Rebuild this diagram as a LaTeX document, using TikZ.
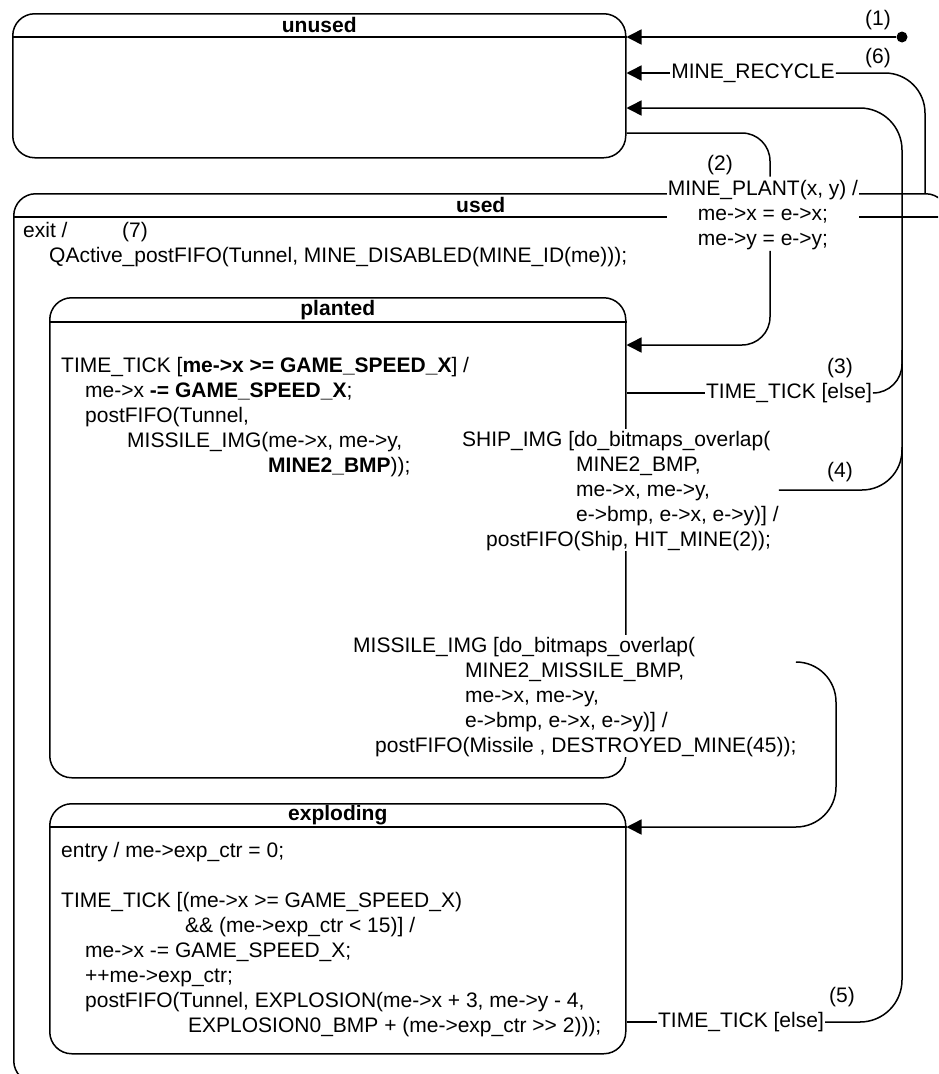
\documentclass[tikz,border=0pt]{standalone}
\usepackage{fontspec}
\setmainfont{Liberation Sans}
\usetikzlibrary{
	arrows.meta,
	positioning
}
\tikzset{
  % state
	cststate/.style   ={draw, line width=1.5pt, rounded corners=22pt, inner sep=0pt, anchor=north west},
	csthead/.style    ={line width=1.5pt},
	csttitle/.style   ={font=\fontsize{21}{25}\selectfont\bfseries, inner sep=0pt},
  % text
	csttext/.style    ={align=left, inner sep=0pt, anchor=north west},
	cstlabel/.style   ={fill=white, inner sep=1pt},
	cstnum/.style     ={inner sep=0pt},
  % arrow
	cstline/.style    ={line width=1.5pt},
	cstra/.style      ={line width=1.5pt, -{Triangle[length=15pt,width=15pt]}},
  % dot
	cstdot/.style     ={circle, fill, inner sep=0pt, minimum size=11pt}
}
\begin{document}
\begin{tikzpicture}[x=1pt, y=-1pt, font=\fontsize{21}{25}\selectfont]
	\useasboundingbox (0,0) rectangle (938,1074);
	\clip (0,0) rectangle (938,1074);
	% states
	\node[cststate, minimum width=613pt, minimum height=144pt] (unused) at (12,13) {};
	\node[cststate, minimum width=934pt, minimum height=889pt] (used) at (13,193) {};
	\node[cststate, minimum width=576pt, minimum height=480pt] (planted) at (49,297) {};
	\node[cststate, minimum width=576pt, minimum height=250pt] (exploding) at (49,803) {};
	\draw[csthead] (unused.west |- 0,37) -- (unused.east |- 0,37);
	\draw[csthead] (used.west |- 0,217) -- (used.east |- 0,217);
	\draw[csthead] (planted.west |- 0,322) -- (planted.east |- 0,322);
	\draw[csthead] (exploding.west |- 0,827) -- (exploding.east |- 0,827);
	\node[csttitle] (unusedtitle) at (unused.north |- 0,25) {unused};
	\node[csttitle] (usedtitle) at (used.north |- 0,205) {used};
	\node[csttitle] (plantedtitle) at (planted.north |- 0,310) {planted};
	\node[csttitle] (explodingtitle) at (exploding.north |- 0,815) {exploding};
	% actions
	\node[csttext] (usedtext) at (23,219.5) {\strut exit /\\
		\hspace*{26pt}QActive\_postFIFO(Tunnel, MINE\_DISABLED(MINE\_ID(me)));};
	\node[cstnum, anchor=base west] (num7) at (122,237) {(7)};
	\node[csttext] (plantedtext) at (61,354.5) {\strut TIME\_TICK [\textbf{me->x >= GAME\_SPEED\_X}] /\\
		\hspace*{24pt}me->x \textbf{-= GAME\_SPEED\_X};\\
		\hspace*{24pt}postFIFO(Tunnel,\\
		\hspace*{66pt}MISSILE\_IMG(me->x, me->y,\\
		\hspace*{207pt}\textbf{MINE2\_BMP}));};
	\node[csttext] (explodingtext) at (61,839.5) {\strut entry / me->exp\_ctr = 0;\\[25pt]
		TIME\_TICK [(me->x >= GAME\_SPEED\_X)\\
		\hspace*{124pt}\&\& (me->exp\_ctr < 15)] /\\
		\hspace*{24pt}me->x -= GAME\_SPEED\_X;\\
		\hspace*{24pt}++me->exp\_ctr;\\
		\hspace*{24pt}postFIFO(Tunnel, EXPLOSION(me->x + 3, me->y - 4,\\
		\hspace*{127pt}EXPLOSION0\_BMP + (me->exp\_ctr >\kern0pt> 2)));};
	% transition labels
	\node[cstlabel] (recycle) at (753,73) {MINE\_RECYCLE};
	\node[cstlabel, align=center, anchor=north] (plant) at (763,176.5) {\strut MINE\_PLANT(x, y) /\\
		me->x = e->x;\\
		me->y = e->y;};
	\node[cstlabel] (else3) at (789,393) {TIME\_TICK [else]};
	\node[cstlabel, csttext] (ship) at (462,428.5) {\strut SHIP\_IMG [do\_bitmaps\_overlap(\\
		\hspace*{114pt}MINE2\_BMP,\\
		\hspace*{114pt}me->x, me->y,\\
		\hspace*{114pt}e->bmp, e->x, e->y)] /\\
		\hspace*{24pt}postFIFO(Ship, HIT\_MINE(2));};
	\node[cstlabel, csttext] (missile) at (353,634.5) {\strut MISSILE\_IMG [do\_bitmaps\_overlap(\\
		\hspace*{112pt}MINE2\_MISSILE\_BMP,\\
		\hspace*{112pt}me->x, me->y,\\
		\hspace*{112pt}e->bmp, e->x, e->y)] /\\
		\hspace*{22pt}postFIFO(Missile , DESTROYED\_MINE(45));};
	\node[cstlabel] (else5) at (741,1022) {TIME\_TICK [else]};
	\node[cstnum] (num1) at (878,20) {(1)};
	\node[cstnum] (num6) at (878,58) {(6)};
	\node[cstnum] (num2) at (720,165) {(2)};
	\node[cstnum] (num3) at (840,368) {(3)};
	\node[cstnum] (num4) at (840,472) {(4)};
	\node[cstnum] (num5) at (842,997) {(5)};
	% transitions
	\node[cstdot] (init) at (902,37) {};
	\draw[cstra] (init) -- (unused.east |- init);
	\draw[cstra] (recycle.west) -- (unused.east |- recycle.west);
	\draw[cstline, rounded corners=40pt] (recycle.east) -- (recycle.east -| 925,0) -- (used.north -| 925,0);
	\draw[cstline, rounded corners=28pt] (unused.east |- 0,133) -- (770,133) -- (plant.north -| 770,0);
	\draw[cstra, rounded corners=28pt] (plant.south -| 770,0) -- (770,345) -- (planted.east |- 0,345);
	\draw[cstline] (planted.east |- else3.west) -- (else3.west);
	\draw[cstline, rounded corners=29pt] (else3.east) -- (else3.east -| 902,0) -- (902,350);
	\draw[cstline, rounded corners=40pt] (ship.east |- 0,490) -- (902,490) -- (902,447);
	\draw[cstra, rounded corners=40pt] (missile.east |- 0,662) -- (836,662) -- (836,827) -- (exploding.east |- 0,827);
	\draw[cstline] (exploding.east |- else5.west) -- (else5.west);
	\draw[cstra, rounded corners=42pt] (else5.east) -- (else5.east -| 902,0) -- (902,108) -- (unused.east |- 0,108);
\end{tikzpicture}
\end{document}
